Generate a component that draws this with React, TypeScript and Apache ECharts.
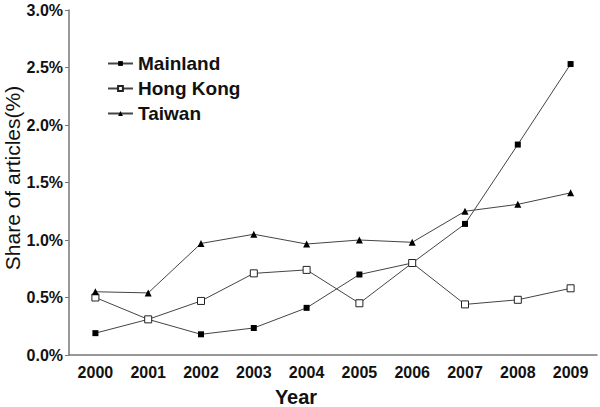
import React, { useEffect, useRef } from "react";
import * as echarts from "echarts";

const years = ["2000", "2001", "2002", "2003", "2004", "2005", "2006", "2007", "2008", "2009"];
const mainland = [0.19, 0.31, 0.18, 0.235, 0.41, 0.70, 0.80, 1.14, 1.83, 2.53];
const hongKong = [0.50, 0.31, 0.47, 0.71, 0.74, 0.45, 0.80, 0.44, 0.48, 0.58];
const taiwan = [0.55, 0.54, 0.97, 1.05, 0.965, 1.00, 0.98, 1.25, 1.31, 1.41];

const FONT = "'Liberation Sans', Arial, sans-serif";

export default function App() {
  const ref = useRef<HTMLDivElement>(null);
  useEffect(() => {
    const chart = echarts.init(ref.current!, null, { renderer: "svg" });
    const lineStyle = { color: "#444", width: 1 };
    chart.setOption({
      animation: false,
      backgroundColor: "#fff",
      grid: { left: 69, right: 3, top: 10, bottom: 52 },
      legend: {
        orient: "vertical",
        left: 102,
        top: 49,
        itemWidth: 25,
        itemHeight: 6,
        itemGap: 6,
        textStyle: { fontFamily: FONT, fontWeight: "bold", fontSize: 19, color: "#111" },
        data: ["Mainland", "Hong Kong", "Taiwan"],
      },
      xAxis: {
        type: "category",
        data: years,
        boundaryGap: true,
        axisLine: { lineStyle: { color: "#777", width: 1.5 } },
        axisTick: { inside: true, length: 4, lineStyle: { color: "#777" } },
        axisLabel: { fontFamily: FONT, fontWeight: "bold", fontSize: 16, color: "#111", margin: 9 },
      },
      yAxis: {
        type: "value",
        min: 0,
        max: 3,
        interval: 0.5,
        splitLine: { show: false },
        axisLine: { show: true, lineStyle: { color: "#777", width: 1.5 } },
        axisTick: { show: true, length: 4, lineStyle: { color: "#777" } },
        axisLabel: {
          fontFamily: FONT,
          fontWeight: "bold",
          fontSize: 16,
          color: "#111",
          margin: 6,
          formatter: (v: number) => v.toFixed(1) + "%",
        },
      },
      graphic: [
        {
          type: "text",
          x: 296,
          y: 397,
          style: { text: "Year", fontFamily: FONT, fontWeight: "bold", fontSize: 20, fill: "#111", align: "center", verticalAlign: "middle" },
        },
        {
          type: "text",
          x: 12,
          y: 178,
          rotation: Math.PI / 2,
          style: { text: "Share of articles(%)", fontFamily: FONT, fontSize: 21, fill: "#111", align: "center", verticalAlign: "middle" },
        },
      ],
      series: [
        {
          name: "Mainland",
          type: "line",
          data: mainland,
          symbol: "rect",
          symbolSize: 6,
          lineStyle,
          itemStyle: { color: "#000", borderColor: "#000", borderWidth: 0 },
        },
        {
          name: "Hong Kong",
          type: "line",
          data: hongKong,
          symbol: "rect",
          symbolSize: 7,
          lineStyle,
          itemStyle: { color: "#fff", borderColor: "#222", borderWidth: 1 },
        },
        {
          name: "Taiwan",
          type: "line",
          data: taiwan,
          symbol: "triangle",
          symbolSize: 7,
          lineStyle,
          itemStyle: { color: "#000", borderColor: "#000", borderWidth: 0 },
        },
      ],
    });
    return () => chart.dispose();
  }, []);
  return <div ref={ref} style={{ width: 600, height: 407, position: "absolute", left: 0, top: 0 }} />;
}
